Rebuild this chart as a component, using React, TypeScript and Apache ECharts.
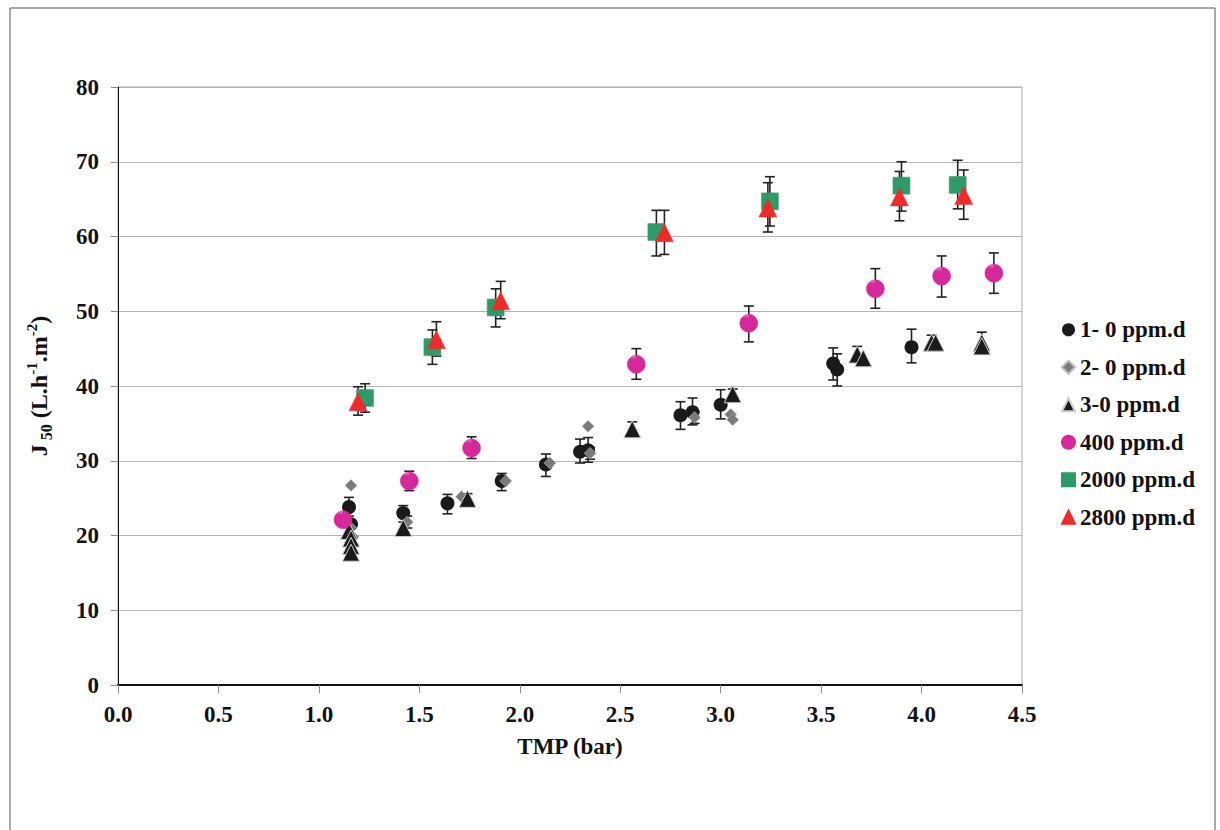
import React, { useEffect, useRef } from "react";
import * as echarts from "echarts";

// ---- data ----
const xTicks = [0, 0.5, 1, 1.5, 2, 2.5, 3, 3.5, 4, 4.5];
const yTicks = [0, 10, 20, 30, 40, 50, 60, 70, 80];

const seriesNames = ["1- 0 ppm.d", "2- 0 ppm.d", "3-0 ppm.d", "400 ppm.d", "2000 ppm.d", "2800 ppm.d"];

const s1Points = [
  [1.15, 23.8], [1.16, 21.5], [1.42, 23.0], [1.64, 24.3], [1.91, 27.3], [2.13, 29.5],
  [2.30, 31.2], [2.34, 31.4], [2.80, 36.1], [2.86, 36.5], [3.00, 37.5], [3.56, 43.0],
  [3.58, 42.2], [3.95, 45.2],
];
const s1Err = [
  [1.15, 22.6, 25.1], [1.42, 21.8, 24.0], [1.64, 22.9, 25.5], [1.91, 26.0, 28.3],
  [2.13, 27.9, 30.9], [2.30, 29.7, 32.9], [2.34, 29.8, 33.1], [2.80, 34.2, 37.9],
  [2.86, 34.8, 38.4], [3.00, 35.6, 39.5], [3.56, 40.8, 45.1], [3.58, 40.0, 44.3],
  [3.95, 43.1, 47.6],
];

const s2Points = [
  [1.16, 26.7], [1.16, 21.0], [1.17, 19.8], [1.17, 18.8], [1.44, 21.8], [1.71, 25.2],
  [1.93, 27.3], [2.15, 29.7], [2.34, 34.6], [2.35, 31.0], [2.87, 35.8], [3.05, 36.2],
  [3.06, 35.5],
];
const s2Err = [
  [1.44, 21.0, 22.6], [2.35, 30.2, 31.8], [2.87, 35.0, 36.6],
];

const s3Points = [
  [1.15, 20.6], [1.16, 19.6], [1.16, 18.6], [1.16, 17.7], [1.42, 21.0], [1.74, 24.9],
  [2.56, 34.2], [3.06, 38.9], [3.68, 44.2], [3.71, 43.7], [4.05, 45.8], [4.07, 45.8],
  [4.30, 45.8], [4.30, 45.3],
];
const s3Err = [
  [1.74, 24.2, 25.6], [2.56, 33.8, 35.2], [3.06, 38.4, 39.6], [3.68, 43.6, 45.3],
  [4.05, 45.2, 46.8], [4.30, 44.8, 47.2],
];

const s4Points = [
  [1.12, 22.1], [1.45, 27.3], [1.76, 31.7], [2.58, 42.9], [3.14, 48.4], [3.77, 53.0],
  [4.10, 54.7], [4.36, 55.1],
];
const s4Err = [
  [1.45, 26.0, 28.6], [1.76, 30.3, 33.2], [2.58, 40.9, 45.0], [3.14, 45.9, 50.7],
  [3.77, 50.4, 55.7], [4.10, 51.9, 57.4], [4.36, 52.4, 57.8],
];

const s5Points = [
  [1.23, 38.4], [1.565, 45.2], [1.88, 50.5], [2.68, 60.6], [3.245, 64.7], [3.90, 66.8], [4.18, 66.9],
];
const s5Err = [
  [1.23, 36.5, 40.3], [1.565, 42.9, 47.5], [1.88, 47.9, 53.0], [2.68, 57.4, 63.5],
  [3.245, 61.4, 68.0], [3.90, 63.4, 70.0], [4.18, 63.7, 70.2],
];

const s6Points = [
  [1.195, 37.9], [1.585, 46.2], [1.905, 51.4], [2.72, 60.5], [3.235, 63.8], [3.89, 65.3], [4.21, 65.5],
];
const s6Err = [
  [1.195, 36.1, 39.9], [1.585, 44.0, 48.6], [1.905, 49.0, 54.0], [2.72, 57.6, 63.5],
  [3.235, 60.6, 67.2], [3.89, 62.1, 68.7], [4.21, 62.3, 68.9],
];

const FONT = "'Liberation Serif', 'Times New Roman', serif";

function makePattern(kind: string): any {
  const c = document.createElement("canvas");
  const n = kind === "green" ? 7 : 6;
  c.width = n;
  c.height = n;
  const g = c.getContext("2d")!;
  if (kind === "pink") {
    g.fillStyle = "#d6289a";
    g.fillRect(0, 0, n, n);
    g.fillStyle = "rgba(255,255,255,0.8)";
    g.fillRect(2, 1, 1, 3);
    g.fillRect(1, 2, 3, 1);
    g.fillRect(5, 4, 1, 1);
  } else if (kind === "green") {
    g.fillStyle = "#2e9a68";
    g.fillRect(0, 0, n, n);
    g.fillStyle = "rgba(255,255,255,0.45)";
    for (let i = 1; i < n - 1; i++) {
      g.fillRect(i, i, 1, 1);
      g.fillRect(n - 1 - i, i, 1, 1);
    }
  } else {
    g.fillStyle = "#ee2a2a";
    g.fillRect(0, 0, n, n);
    g.fillStyle = "rgba(255,255,255,0.75)";
    g.fillRect(1, 1, 2, 2);
    g.fillRect(4, 4, 1, 1);
  }
  return { image: c, repeat: "repeat" };
}

function errRender(params: any, api: any) {
  const x = api.value(0);
  const lo = api.value(1);
  const hi = api.value(2);
  const pLo = api.coord([x, lo]);
  const pHi = api.coord([x, hi]);
  const w = 5;
  const st = { stroke: "#222", lineWidth: 1.6 };
  return {
    type: "group",
    children: [
      { type: "line", shape: { x1: pLo[0], y1: pLo[1], x2: pHi[0], y2: pHi[1] }, style: st },
      { type: "line", shape: { x1: pLo[0] - w, y1: pLo[1], x2: pLo[0] + w, y2: pLo[1] }, style: st },
      { type: "line", shape: { x1: pHi[0] - w, y1: pHi[1], x2: pHi[0] + w, y2: pHi[1] }, style: st },
    ],
  };
}

function errSeries(data: number[][]) {
  return {
    type: "custom",
    renderItem: errRender,
    data,
    encode: { x: 0, y: [1, 2] },
    z: 1,
    silent: true,
  };
}

export default function App() {
  const ref = useRef<HTMLDivElement>(null);
  useEffect(() => {
    const chart = echarts.init(ref.current!, null, { renderer: "svg" });
    const pinkFill = makePattern("pink");
    const greenFill = makePattern("green");
    const redFill = makePattern("red");
    const option: any = {
      animation: false,
      backgroundColor: "#fff",
      textStyle: { fontFamily: FONT },
      graphic: [
        {
          type: "rect",
          shape: { x: 10, y: 8, width: 1205, height: 850 },
          style: { fill: "none", stroke: "#555", lineWidth: 1 },
          silent: true,
        },
      ],
      grid: {
        left: 118, top: 87, right: 198, bottom: 145,
        show: true, borderColor: "#a8a8a8", borderWidth: 1, backgroundColor: "transparent",
      },
      legend: {
        orient: "vertical",
        left: 1056,
        top: 312,
        itemWidth: 13,
        itemHeight: 13,
        itemGap: 12,
        textStyle: { fontFamily: FONT, fontSize: 23, fontWeight: "bold", color: "#111", lineHeight: 25.5 },
        data: [
          { name: seriesNames[0], icon: "circle", itemStyle: { color: "#1a1a1a" } },
          { name: seriesNames[1], icon: "diamond", itemStyle: { color: "#7a7a7a" } },
          { name: seriesNames[2], icon: "triangle", itemStyle: { color: "#1a1a1a" } },
          { name: seriesNames[3], icon: "circle", itemStyle: { color: "#d6289a" } },
          { name: seriesNames[4], icon: "rect", itemStyle: { color: "#2e9a68" } },
          { name: seriesNames[5], icon: "triangle", itemStyle: { color: "#ee2a2a" } },
        ],
      },
      xAxis: {
        type: "value",
        min: 0, max: 4.5, interval: 0.5,
        name: "TMP (bar)",
        nameLocation: "middle",
        nameGap: 50,
        nameTextStyle: { fontFamily: FONT, fontSize: 23, fontWeight: "bold", color: "#111" },
        axisLine: { show: true, onZero: false, lineStyle: { color: "#111", width: 2 } },
        axisTick: { show: true, length: 8, lineStyle: { color: "#888" } },
        axisLabel: {
          margin: 18, fontFamily: FONT, fontSize: 23, fontWeight: "bold", color: "#111",
          formatter: (v: number) => (xTicks.includes(v) ? v.toFixed(1) : ""),
        },
        splitLine: { show: false },
      },
      yAxis: {
        type: "value",
        min: 0, max: 80, interval: 10,
        name: "{b|J}{sub| 50}{b| (L.h}{sup|-1}{b|.m}{sup|-2}{b|)}",
        nameLocation: "middle",
        nameGap: 64,
        nameRotate: 90,
        nameTextStyle: {
          rich: {
            b: { fontFamily: FONT, fontSize: 24, fontWeight: "bold", color: "#111", lineHeight: 30, verticalAlign: "middle" },
            sub: { fontFamily: FONT, fontSize: 16, fontWeight: "bold", color: "#111", lineHeight: 30, verticalAlign: "bottom", padding: [8, 0, 0, 0] },
            sup: { fontFamily: FONT, fontSize: 15, fontWeight: "bold", color: "#111", lineHeight: 30, verticalAlign: "top", padding: [0, 0, 8, 0] },
          },
        },
        axisLine: { show: true, lineStyle: { color: "#111", width: 1 } },
        axisTick: { show: true, length: 7, lineStyle: { color: "#888" } },
        axisLabel: {
          margin: 19, fontFamily: FONT, fontSize: 23, fontWeight: "bold", color: "#111",
          formatter: (v: number) => (yTicks.includes(v) ? String(v) : ""),
        },
        splitLine: { show: true, lineStyle: { color: "#b4b4b4", width: 1 } },
      },
      series: [
        errSeries(s1Err), errSeries(s2Err), errSeries(s3Err),
        errSeries(s4Err), errSeries(s5Err), errSeries(s6Err),
        {
          name: seriesNames[0], type: "scatter", data: s1Points, symbol: "circle", symbolSize: 14, z: 3,
          itemStyle: { color: "#1a1a1a", opacity: 1 },
        },
        {
          name: seriesNames[1], type: "scatter", data: s2Points, symbol: "diamond", symbolSize: 12, z: 3,
          itemStyle: { color: "#7a7a7a", borderColor: "#bbb", borderWidth: 0.5, opacity: 1 },
        },
        {
          name: seriesNames[2], type: "scatter", data: s3Points, symbol: "triangle", symbolSize: 17, z: 3,
          itemStyle: { color: "#1a1a1a", borderColor: "#ccc", borderWidth: 1, opacity: 1 },
        },
        {
          name: seriesNames[3], type: "scatter", data: s4Points, symbol: "circle", symbolSize: 18, z: 4,
          itemStyle: { color: pinkFill, borderColor: "#d6289a", borderWidth: 0.5, opacity: 1 },
        },
        {
          name: seriesNames[4], type: "scatter", data: s5Points, symbol: "rect", symbolSize: 17, z: 4,
          itemStyle: { color: greenFill, borderColor: "#2e9a68", borderWidth: 0.5, opacity: 1 },
        },
        {
          name: seriesNames[5], type: "scatter", data: s6Points, symbol: "triangle", symbolSize: 18, z: 5,
          itemStyle: { color: redFill, borderColor: "#ee2a2a", borderWidth: 0.5, opacity: 1 },
        },
      ],
    };
    chart.setOption(option);
    return () => chart.dispose();
  }, []);
  return (
    <div
      ref={ref}
      style={{ position: "absolute", left: 0, top: 0, width: 1220, height: 830 }}
    />
  );
}
